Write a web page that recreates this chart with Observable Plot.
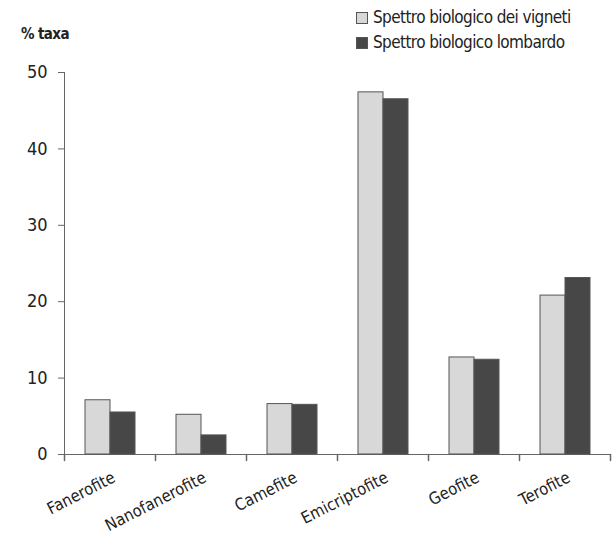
<!DOCTYPE html>
<html><head><meta charset="utf-8">
<script src="https://cdn.jsdelivr.net/npm/d3@7"></script>
<script src="https://cdn.jsdelivr.net/npm/@observablehq/plot@0.6"></script>
<style>
body{margin:0;background:#fff;}
#wrap{position:relative;width:612px;height:536px;font-family:"DejaVu Sans Condensed","DejaVu Sans",sans-serif;font-stretch:condensed;color:#222;}
#ylab{position:absolute;z-index:2;left:21px;top:25px;font-size:15px;font-weight:bold;letter-spacing:-0.6px;}
#legend{position:absolute;z-index:2;left:356px;top:5px;font-size:17px;line-height:25px;letter-spacing:-0.6px;}
.item{display:flex;align-items:center;white-space:nowrap;}
.sw{width:10px;height:10px;border:1px solid #555;margin-right:5px;flex:none;}
svg{position:absolute;left:0;top:0;z-index:1;}
</style></head><body><div id="wrap"><div id="ylab">% taxa</div><div id="legend"></div></div>
<script>
const categories = ["Fanerofite","Nanofanerofite","Camefite","Emicriptofite","Geofite","Terofite"];
const series = ["Spettro biologico dei vigneti","Spettro biologico lombardo"];
const vigneti = [7.1, 5.2, 6.6, 47.4, 12.7, 20.8];
const lombardo = [5.5, 2.5, 6.5, 46.5, 12.4, 23.1];
const yTicks = [0, 10, 20, 30, 40, 50];
const colors = ["#d8d8d8", "#474747"];

const data = categories.flatMap((c, i) => [
  {category: c, series: series[0], value: vigneti[i]},
  {category: c, series: series[1], value: lombardo[i]}
]);

const tickShape = {draw(ctx, l) { ctx.moveTo(0, 0); ctx.lineTo(0, l); }};

const chart = Plot.plot({
  width: 612,
  height: 536,
  marginTop: 72,
  marginBottom: 82,
  marginLeft: 63,
  marginRight: 1,
  style: {fontFamily: '"DejaVu Sans Condensed","DejaVu Sans",sans-serif', fontStretch: "condensed", fontSize: "17px", color: "#222", background: "transparent"},
  fx: {domain: categories, padding: 0, label: null, axis: null},
  x: {domain: series, padding: 0, paddingOuter: 0.76, axis: null},
  y: {domain: [0, 50], label: null, axis: null},
  color: {domain: series, range: colors},
  marks: [
    Plot.axisY({anchor: "left", ticks: yTicks, tickSize: 6, tickPadding: 11, fontSize: 18, stroke: "#666", label: null}),
    Plot.axisFx({anchor: "bottom", tickSize: 0, tickRotate: -27, tickPadding: 22, dx: 4, fontSize: 16.5, letterSpacing: -0.2, label: null}),
    Plot.frame({anchor: "left", facet: "super", stroke: "#666"}),
    Plot.frame({anchor: "bottom", facet: "super", stroke: "#666"}),
    Plot.barY(data, {fx: "category", x: "series", y: "value", fill: "series", stroke: "#555", strokeWidth: 1}),
    Plot.vector([0], {frameAnchor: "bottom-left", length: 6, shape: tickShape, anchor: "start", stroke: "#666"}),
    Plot.vector([categories[categories.length - 1]], {fx: d => d, frameAnchor: "bottom-right", length: 6, shape: tickShape, anchor: "start", stroke: "#666"})
  ]
});
document.getElementById("wrap").appendChild(chart);

const legend = document.getElementById("legend");
series.forEach((s, i) => {
  const it = document.createElement("div");
  it.className = "item";
  it.innerHTML = `<span class="sw" style="background:${colors[i]}"></span><span>${s}</span>`;
  legend.appendChild(it);
});
</script>
</body></html>
